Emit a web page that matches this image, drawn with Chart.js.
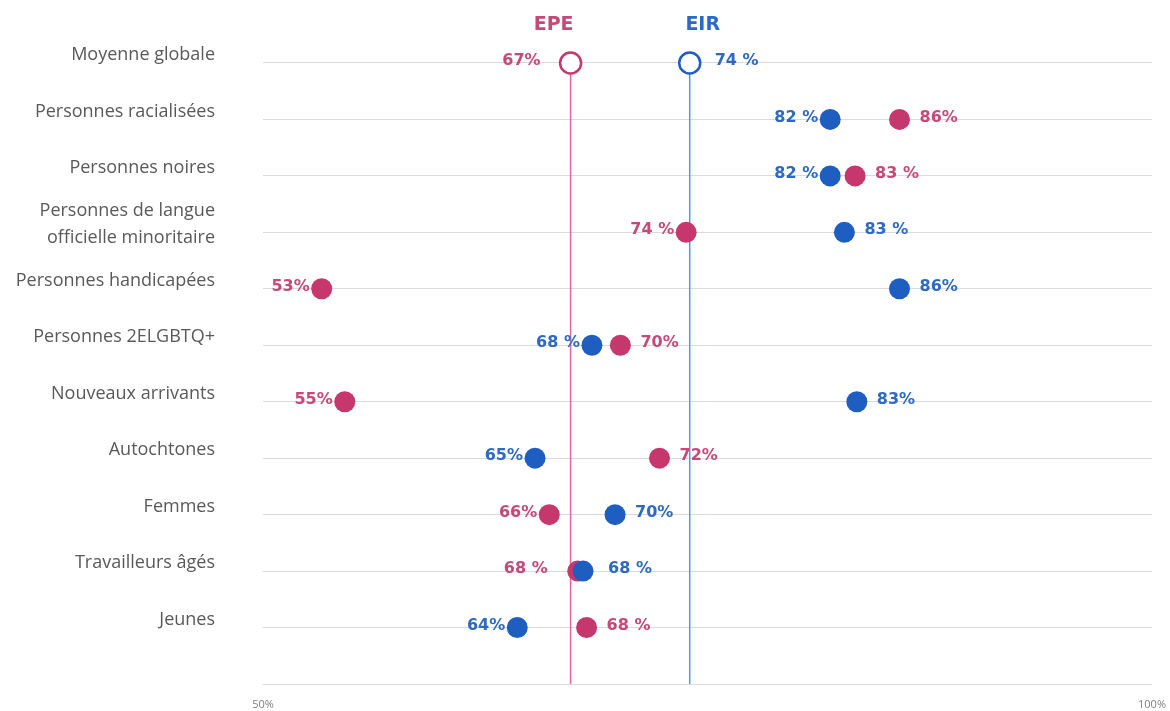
<!DOCTYPE html>
<html>
<head>
<meta charset="utf-8">
<script src="https://cdn.jsdelivr.net/npm/chart.js@4"></script>
<style>
  body { margin: 0; background: #fff; }
  #wrap { width: 1170px; height: 711px; }
</style>
</head>
<body>
<div id="wrap"><canvas id="chart"></canvas></div>
<script>
// data (values in %)
const categories = ['Moyenne globale', 'Personnes racialisées', 'Personnes noires',
    ['Personnes de langue', 'officielle minoritaire'], 'Personnes handicapées',
    'Personnes 2ELGBTQ+', 'Nouveaux arrivants', 'Autochtones', 'Femmes',
    'Travailleurs âgés', 'Jeunes'];
const epeValues = [67.3, 85.8, 83.3, 73.8, 53.3, 70.1, 54.6, 72.3, 66.1, 67.7, 68.2];
const eirValues = [74.0, 81.9, 81.9, 82.7, 85.8, 68.5, 83.4, 65.3, 69.8, 68.0, 64.3];
const epeLabels = ['67%', '86%', '83 %', '74 %', '53%', '70%', '55%', '72%', '66%', '68 %', '68 %'];
const eirLabels = ['74 %', '82 %', '82 %', '83 %', '86%', '68 %', '83%', '65%', '70%', '68 %', '64%'];
const seriesNames = ['EPE', 'EIR'];
const xTicks = [50, 100];

const PINK = '#c5376d';
const PINK_TEXT = '#c94878';
const PINK_LINE = '#e862a8';
const BLUE = '#1f5ec1';
const BLUE_TEXT = '#2d69c6';
const BLUE_LINE = '#4f97ee';

function pointsOf(values){
    return values.map((v, i) => ({x: v, y: i}));
}

// value labels next to the dots + EPE / EIR titles
const labelPlugin = {
    id: 'valueLabels',
    afterDatasetsDraw(chart){
        const ctx = chart.ctx;
        const x = chart.scales.x;
        const y = chart.scales.y;
        ctx.save();
        ctx.font = 'bold 16px "DejaVu Sans"';
        ctx.textBaseline = 'middle';
        categories.forEach((c, i) => {
            const py = y.getPixelForValue(i) - 2;
            const close = Math.abs(epeValues[i] - eirValues[i]) < 1 || i === 0;
            const epeLow = epeValues[i] <= eirValues[i];
            const items = [
                [epeValues[i], epeLabels[i], PINK_TEXT, epeLow],
                [eirValues[i], eirLabels[i], BLUE_TEXT, !epeLow]
            ];
            items.forEach(item => {
                const px = x.getPixelForValue(item[0]);
                ctx.fillStyle = item[2];
                if (item[3]){
                    ctx.textAlign = 'right';
                    ctx.fillText(item[1], px - (close ? 30 : 12), py);
                } else {
                    ctx.textAlign = 'left';
                    ctx.fillText(item[1], px + (close ? 25 : 20), py);
                }
            });
        });

        ctx.font = 'bold 19px "DejaVu Sans"';
        ctx.textAlign = 'center';
        ctx.fillStyle = PINK_TEXT;
        ctx.fillText(seriesNames[0], x.getPixelForValue(epeValues[0]) - 17, 25);
        ctx.fillStyle = BLUE_TEXT;
        ctx.fillText(seriesNames[1], x.getPixelForValue(eirValues[0]) + 13, 25);
        ctx.restore();
    }
};

function dotDataset(label, values, color){
    return {
        label: label,
        data: pointsOf(values),
        order: 1,
        pointRadius: 10.5,
        pointBackgroundColor: c => c.dataIndex === 0 ? '#ffffff' : color,
        pointBorderColor: color,
        pointBorderWidth: c => c.dataIndex === 0 ? 2.5 : 0
    };
}

function averageLine(value, color){
    return {
        type: 'line',
        data: [{x: value, y: 0}, {x: value, y: 11}],
        showLine: true,
        order: 10,
        borderColor: color,
        borderWidth: 1.5,
        pointRadius: 0
    };
}

new Chart(document.getElementById('chart'), {
    type: 'scatter',
    data: {
        datasets: [
            averageLine(epeValues[0], PINK_LINE),
            averageLine(eirValues[0], BLUE_LINE),
            dotDataset(seriesNames[1], eirValues, BLUE),
            dotDataset(seriesNames[0], epeValues, PINK)
        ]
    },
    options: {
        responsive: true,
        maintainAspectRatio: false,
        animation: false,
        events: [],
        layout: { padding: { top: 0, right: 18, left: 0, bottom: 0 } },
        plugins: {
            legend: { display: false },
            tooltip: { enabled: false }
        },
        scales: {
            x: {
                type: 'linear',
                min: 50,
                max: 100,
                afterBuildTicks(s){ s.ticks = xTicks.map(v => ({value: v})); },
                afterFit(s){
                    s.height = 27;
                    s.paddingLeft = 0;
                    s.paddingRight = 0;
                },
                ticks: {
                    callback: v => v + '%',
                    color: '#7f7f7f',
                    font: { family: 'Open Sans', size: 11 },
                    padding: 6,
                    maxRotation: 0,
                    autoSkip: false
                },
                grid: { display: false },
                border: { display: false }
            },
            y: {
                type: 'linear',
                reverse: true,
                min: -0.885,
                max: 11,
                afterBuildTicks(s){
                    s.ticks = [];
                    for (let i = 0; i <= 11; i++) s.ticks.push({value: i});
                },
                afterFit(s){
                    s.width = 263;
                    s.paddingTop = 0;
                    s.paddingBottom = 0;
                },
                ticks: {
                    padding: 48,
                    labelOffset: -8,
                    autoSkip: false,
                    color: '#595959',
                    font: { family: 'Open Sans', size: 18, lineHeight: 1.45 },
                    callback: v => categories[v] !== undefined ? categories[v] : ''
                },
                grid: {
                    drawTicks: false,
                    lineWidth: 1,
                    color: '#dadada'
                },
                border: { display: false }
            }
        }
    },
    plugins: [labelPlugin]
});
</script>
</body>
</html>
